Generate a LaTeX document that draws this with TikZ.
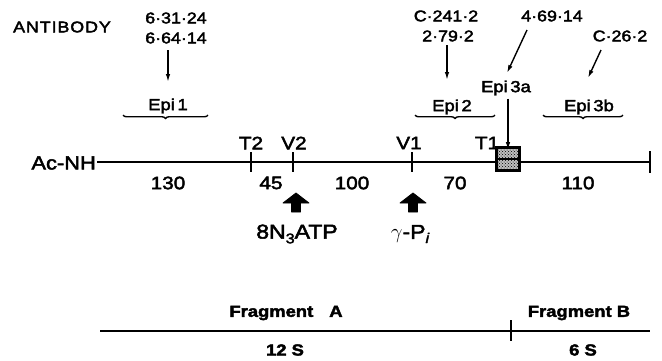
\documentclass[tikz,border=0pt]{standalone}
\usepackage{fontspec}
\setmainfont{Liberation Sans}[FakeStretch=1.15,FakeBold=2.5]
\usetikzlibrary{arrows.meta,decorations.pathreplacing,patterns}
\begin{document}
\begin{tikzpicture}[x=1pt,y=-1pt,
  lbl/.style={inner sep=0pt,font=\fontsize{18}{18}\selectfont},
  ab/.style={inner sep=0pt,font=\fontsize{15.5}{15.5}\selectfont},
  epi/.style={inner sep=0pt,font=\fontsize{16}{16}\selectfont},
  frag/.style={inner sep=0pt,font=\fontsize{16}{16}\selectfont\bfseries},
  abarrow/.style={line width=1.4pt,-{Latex[length=8pt,width=4.5pt]}},
  epibrace/.style={decorate,decoration={brace,mirror,amplitude=3.5pt},line width=1.4pt},
  mainline/.style={line width=2.6pt},
  tick/.style={line width=1.9pt},
  blockarrow/.style={fill=black,draw=black,line width=0.8pt,line join=round}]
\useasboundingbox (0,0) rectangle (662,360);
% antibody labels
\node[inner sep=0pt,font=\fontsize{15.5}{15.5}\selectfont\addfontfeature{LetterSpace=6}] (antibody) at (62,27) {ANTIBODY};
\node[ab] (a1) at (176,18) {6·31·24};
\node[ab] (a2) at (176,38) {6·64·14};
\node[ab] (c241) at (446,16) {C·241·2};
\node[ab] (a279) at (448,36) {2·79·2};
\node[ab] (a469) at (552,16) {4·69·14};
\node[ab] (c26) at (620,36) {C·26·2};
% epitope labels
\node[epi] (epi1) at (168,106) {Epi\,1};
\node[epi] (epi2) at (452,107) {Epi\,2};
\node[epi] (epi3a) at (506,88) {Epi\,3a};
\node[epi] (epi3b) at (589,107) {Epi\,3b};
% antibody arrows
\coordinate (e1) at (168,82);
\coordinate (e2) at (447,80);
\coordinate (e3) at (507,73);
\coordinate (e4) at (588,78);
\coordinate (s1) at (168,50);
\coordinate (s2) at (447,45);
\coordinate (s3) at (527,30);
\coordinate (s4) at (601,50);
\draw[abarrow] (s1) -- (e1);
\draw[abarrow] (s2) -- (e2);
\draw[abarrow] (s3) -- (e3);
\draw[abarrow] (s4) -- (e4);
% braces
\draw[epibrace] (123,115) -- (208,115);
\draw[epibrace] (415,115) -- (495,115);
\draw[epibrace] (543,115) -- (623,115);
% main line
\node[inner sep=0pt,anchor=east,font=\fontsize{19}{19}\selectfont] (acnh) at (96,163) {Ac-NH};
\coordinate (mstart) at (97,162);
\coordinate (mend) at (650,162);
\draw[mainline] (mstart) -- (mend);
\draw[tick] (650,151) -- (650,173);
\draw[tick] (251,152) -- (251,172);
\draw[tick] (293,152) -- (293,172);
\draw[tick] (412,152) -- (412,172);
\node[lbl] (t2) at (251,143) {T2};
\node[lbl] (v2) at (294,143) {V2};
\node[lbl] (v1) at (409,143) {V1};
\node[lbl] (t1) at (487,143) {T1};
% shaded box
\node[draw=black,line width=1.8pt,fill=black!25,minimum width=22pt,minimum height=22pt,inner sep=0pt] (box) at (508,159) {};
\fill[pattern=crosshatch dots,pattern color=black] (box.south west) rectangle (box.north east);
\draw[line width=1.8pt] (box.south west) rectangle (box.north east);
\draw[mainline] (box.west) -- (box.east);
\draw[abarrow] (epi3a.south -| box.north) ++(0,3) -- ([yshift=-3pt]box.north);
% segment lengths
\node[lbl] (n130) at (168,183) {130};
\node[lbl] (n45) at (271,183) {45};
\node[lbl] (n100) at (352,183) {100};
\node[lbl] (n70) at (455,183) {70};
\node[lbl] (n110) at (578,183) {110};
% block arrows
\draw[blockarrow] (296,193) -- (309,203) -- (300.5,203) -- (300.5,212) -- (291.5,212) -- (291.5,203) -- (283,203) -- cycle;
\draw[blockarrow] (413,193) -- (426,203) -- (417.5,203) -- (417.5,212) -- (408.5,212) -- (408.5,203) -- (400,203) -- cycle;
\node[inner sep=0pt,font=\fontsize{20}{20}\selectfont] (atp) at (297,234) {8N\raisebox{-0.45ex}{\fontsize{14}{14}\selectfont 3}ATP};
\node[inner sep=0pt,font=\fontsize{20}{20}\selectfont] (pi) at (410,234) {$\gamma$-P\raisebox{-0.4ex}{\fontsize{14}{14}\selectfont\itshape i}};
% fragments
\coordinate (fstart) at (100,331);
\coordinate (fend) at (650,331);
\draw[line width=2.2pt] (fstart) -- (fend);
\draw[tick] (511,320) -- (511,341);
\node[frag] (fa) at (286,313) {Fragment\quad A};
\node[frag] (fb) at (579,313) {Fragment B};
\node[frag] (s12) at (285,350) {12 S};
\node[frag] (s6) at (583,350) {6 S};
\end{tikzpicture}
\end{document}
